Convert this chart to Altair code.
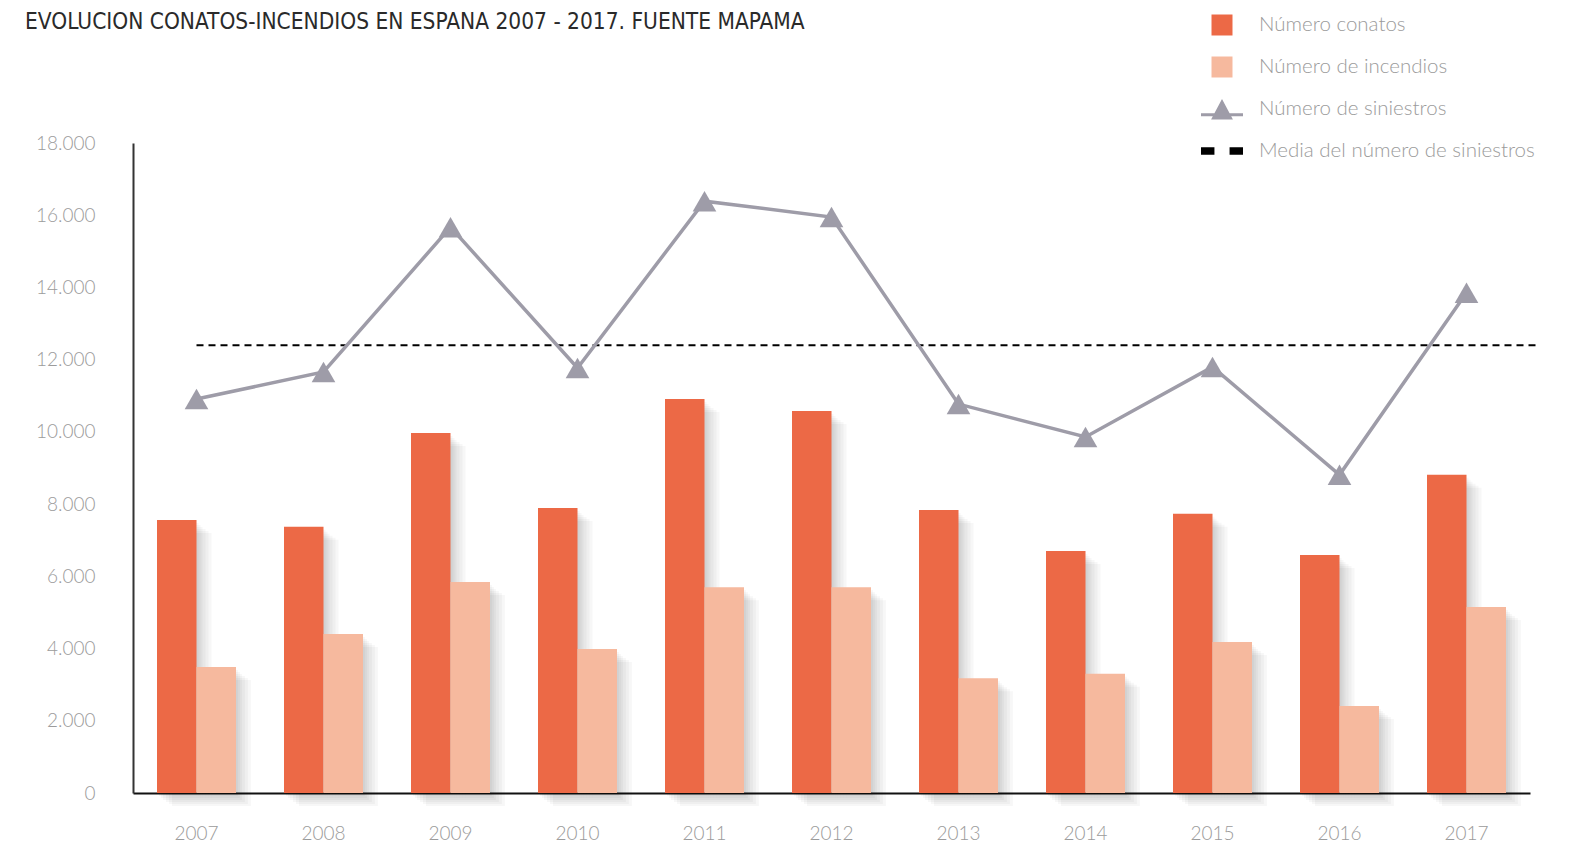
import altair as alt
import pandas as pd

YEARS = ["2007", "2008", "2009", "2010", "2011", "2012", "2013", "2014", "2015", "2016", "2017"]
CONATOS = [7560, 7370, 9970, 7890, 10910, 10580, 7840, 6700, 7730, 6590, 8810]
INCENDIOS = [3490, 4400, 5840, 3990, 5700, 5700, 3180, 3300, 4180, 2410, 5150]
SINIESTROS = [10910, 11660, 15670, 11770, 16390, 15950, 10770, 9860, 11800, 8810, 13850]
MEDIA = 12400
SERIES = ["Número conatos", "Número de incendios", "Número de siniestros",
          "Media del número de siniestros"]
COLORS = ["#EC6946", "#F6B99E", "#9E9CA8", "#000000"]
SYMBOLS = [
    "M-0.5,-0.5H0.5V0.5H-0.5Z",
    "M-0.5,-0.5H0.5V0.5H-0.5Z",
    "M-1,0.2H1V0.34H-1Z M-0.52,0.5L0,-0.48L0.52,0.5Z",
    "M-1,-0.18H-0.36V0.18H-1Z M0.36,-0.18H1V0.18H0.36Z",
]
TITLE = "EVOLUCION CONATOS-INCENDIOS EN ESPANA 2007 - 2017. FUENTE MAPAMA"

LABEL_FONT = "Lato"
GREY = "#9b9b9b"
W, H = 1397, 650
PAD_INNER = 0.378
BAND = W / len(YEARS) * (1 - PAD_INNER)

bars_df = pd.DataFrame({
    "year": YEARS * 2,
    "serie": [SERIES[0]] * len(YEARS) + [SERIES[1]] * len(YEARS),
    "valor": CONATOS + INCENDIOS,
})
line_df = pd.DataFrame({"year": YEARS, "valor": SINIESTROS})
mean_df = pd.DataFrame({"x": [YEARS[0]], "x2": [YEARS[-1]], "valor": [MEDIA]})
legend_df = pd.DataFrame({"leyenda": SERIES})

xscale = alt.Scale(domain=YEARS, paddingInner=PAD_INNER, paddingOuter=PAD_INNER / 2)
yscale = alt.Scale(domain=[0, 18000], nice=False)

xax = alt.X("year:N", scale=xscale, title=None,
            axis=alt.Axis(labelAngle=0, ticks=False, domainColor="#111", domainWidth=2,
                          labelFont=LABEL_FONT, labelFontSize=19, labelFontWeight=300,
                          labelColor=GREY, labelPadding=31, grid=False))
yax = alt.Y("valor:Q", scale=yscale, title=None,
            axis=alt.Axis(values=list(range(0, 18001, 2000)), ticks=False,
                          domainColor="#333", domainWidth=2,
                          labelFont=LABEL_FONT, labelFontSize=19, labelFontWeight=300,
                          labelColor=GREY, labelPadding=38, grid=False,
                          labelExpr="replace(format(datum.value, ','), ',', '.')"))

# soft drop shadow to the right of / below each bar (decoration only)
shadows = []
for i, serie in enumerate(SERIES[:2]):
    sub = bars_df[bars_df["serie"] == serie]
    base_shift = (i - 0.5) * BAND / 2
    for dx, dy in [(2, 3), (4, 5), (6, 7), (9, 9), (12, 11), (15, 13)]:
        shadows.append(
            alt.Chart(sub).mark_bar(
                color="#000", opacity=0.03, width=alt.RelativeBandSize(0.5),
                xOffset=base_shift + dx, yOffset=dy,
            ).encode(x=xax, y=yax)
        )

bars = alt.Chart(bars_df).mark_bar().encode(
    x=xax, y=yax,
    xOffset=alt.XOffset("serie:N", scale=alt.Scale(domain=SERIES[:2], paddingInner=0, paddingOuter=0)),
    color=alt.Color("serie:N", scale=alt.Scale(domain=SERIES[:2], range=COLORS[:2]), legend=None),
)

mean_rule = alt.Chart(mean_df).mark_rule(
    color="black", strokeWidth=2, strokeDash=[7, 5], x2Offset=70
).encode(
    x=alt.X("x:N", scale=xscale), x2="x2:N", y=alt.Y("valor:Q", scale=yscale)
)

line = alt.Chart(line_df).mark_line(color=COLORS[2], strokeWidth=3.5).encode(
    x=alt.X("year:N", scale=xscale), y=alt.Y("valor:Q", scale=yscale)
)
pts = alt.Chart(line_df).mark_point(
    shape="triangle-up", filled=True, size=560, color=COLORS[2], opacity=1
).encode(x=alt.X("year:N", scale=xscale), y=alt.Y("valor:Q", scale=yscale))

legend = alt.Legend(
    title=None, orient="none", legendX=1068, legendY=-139, symbolSize=1764,
    symbolStrokeWidth=0, symbolOpacity=1, labelFont=LABEL_FONT, labelFontSize=20.5,
    labelFontWeight=300, labelColor=GREY, labelOffset=16, rowPadding=10, padding=0,
    labelLimit=400,
)
dummy = alt.Chart(legend_df).mark_point(filled=True, opacity=0).encode(
    color=alt.Color("leyenda:N", scale=alt.Scale(domain=SERIES, range=COLORS), legend=legend),
    shape=alt.Shape("leyenda:N", scale=alt.Scale(domain=SERIES, range=SYMBOLS), legend=legend),
)

chart = alt.layer(*shadows, bars, mean_rule, line, pts, dummy).resolve_scale(
    color="independent", shape="independent"
).properties(
    width=W, height=H,
    autosize=alt.AutoSizeParams(type="none"),
    padding={"left": 125, "top": 135, "right": 15, "bottom": 52},
    title=alt.Title(TITLE, anchor="start", frame="group", fontSize=22.5,
                    font="Liberation Sans Narrow, DejaVu Sans Condensed, Roboto",
                    fontWeight="normal", color="#2a2a2a", dx=-108, offset=0, dy=29),
).configure_view(stroke=None)

chart.save("out.html", embed_options={"renderer": "svg", "actions": False})
